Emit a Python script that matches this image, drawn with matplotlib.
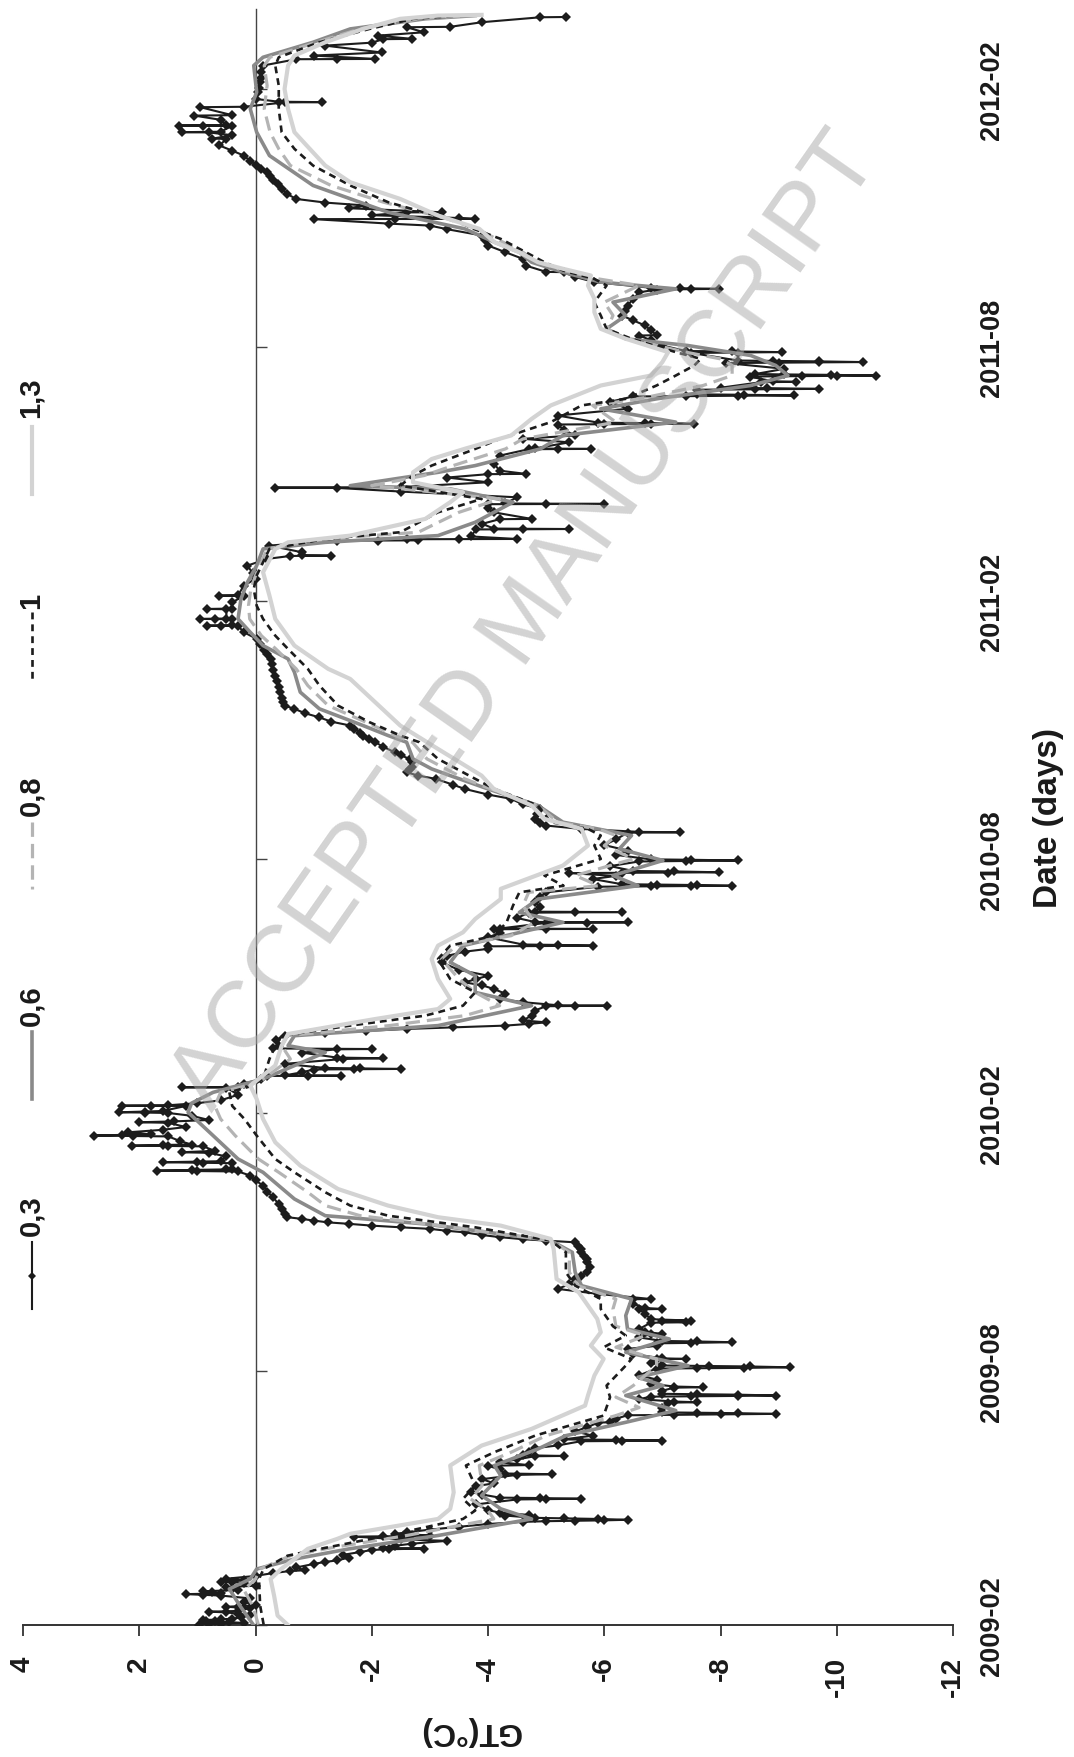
import numpy as np
import matplotlib
matplotlib.use("Agg")
import matplotlib.pyplot as plt
import matplotlib.dates as mdates
import datetime as dt

plt.rcParams['axes.unicode_minus'] = False

START = dt.datetime(2009, 2, 1)
AXIS_END_DAY = 1152
SERIES_NAMES = ['0,3', '0,6', '0,8', '1', '1,3']
GT_TICKS = [4, 2, 0, -2, -4, -6, -8, -10, -12]

# (day since 2009-02-01, GT in degC)
PTS_03 = [
    (0.3, 0.98), (0.6, 0.8), (1.0, 0.6), (1.5, 0.2), (2.0, 0.45), (2.5, 0.7), (3.0, 0.85),
    (3.5, 0.9), (4.0, 0.6), (4.5, 0.4), (5.5, 0.25), (7.0, 0.1), (8.0, 0.3), (9.0, 0.5),
    (9.5, 0.8), (10.0, 0.3), (12.0, 0.1), (12.5, 0.3), (13.0, 0.5), (14.0, 0.0), (16.5, 0.2),
    (19.0, 0.1), (21.0, 0.6), (21.5, 0.9), (22.0, 1.2), (22.5, 0.6), (23.2, 0.75), (24.0, 0.9),
    (25.0, 0.3), (26.0, 0.4), (27.0, 0.5), (28.0, 0.0), (30.0, 0.2), (30.5, 0.4), (31.0, 0.6),
    (32.0, 0.2), (33.0, 0.5), (35.0, 0.0), (37.0, -0.3), (38.5, -0.6), (39.0, -0.85),
    (41.0, -0.7), (43.5, -1.0), (45.0, -1.2), (46.0, -1.4), (48.0, -1.6), (50.0, -1.5),
    (52.0, -1.8), (53.5, -2.0), (54.0, -2.3), (54.5, -2.9), (55.0, -2.2), (56.5, -2.4),
    (58.0, -2.7), (60.0, -3.3), (61.0, -2.5), (63.0, -1.7), (63.2, -2.2), (63.4, -2.6),
    (63.8, -3.0), (64.5, -2.7), (65.0, -2.4), (66.0, -2.6), (68.0, -3.0), (70.0, -3.5),
    (72.0, -4.0), (73.5, -4.6), (74.0, -5.0), (74.3, -5.5), (74.6, -6.0), (75.0, -6.4),
    (75.6, -5.9), (76.0, -5.3), (76.4, -4.8), (78.0, -4.3), (78.5, -4.7), (80.0, -4.2),
    (82.0, -4.0), (86.0, -3.8), (89.5, -4.5), (89.7, -5.0), (90.0, -5.6), (90.5, -4.9),
    (90.8, -4.2), (93.0, -3.9), (95.0, -3.7), (99.0, -3.8), (101.0, -4.1), (104.0, -3.9),
    (107.0, -4.5), (107.5, -5.1), (108.0, -4.3), (111.0, -4.2), (113.5, -4.0), (114.0, -4.7),
    (116.0, -4.2), (118.0, -4.5), (120.3, -4.8), (120.5, -5.3), (121.0, -4.6), (123.0, -4.7),
    (126.0, -4.8), (128.0, -5.2), (131.0, -5.6), (131.2, -6.3), (131.5, -7.0), (132.0, -6.2),
    (132.3, -5.3), (135.0, -5.8), (138.0, -5.5), (141.0, -5.7), (144.3, -5.9), (144.5, -6.1),
    (147.0, -6.2), (149.5, -6.4), (149.8, -7.2), (150.1, -8.0), (150.5, -8.95), (151.0, -8.3),
    (151.3, -7.6), (151.6, -7.0), (155.0, -7.0), (158.5, -7.1), (158.8, -7.6), (159.3, -7.2),
    (161.0, -6.6), (162.8, -6.8), (163.0, -7.5), (163.3, -8.3), (163.6, -8.95), (164.2, -8.3),
    (164.5, -7.6), (164.8, -7.0), (167.0, -7.0), (169.2, -7.2), (169.5, -7.7), (170.0, -7.2),
    (172.0, -6.8), (175.0, -6.9), (178.0, -6.6), (182.8, -6.9), (183.0, -7.6), (183.3, -8.4),
    (183.7, -9.2), (184.3, -8.5), (184.6, -7.8), (185.0, -7.0), (187.0, -6.8), (189.4, -6.9),
    (189.7, -7.4), (190.1, -7.0), (193.0, -6.5), (196.8, -6.4), (199.0, -6.9), (200.8, -6.9),
    (201.1, -7.5), (201.6, -8.2), (202.1, -7.6), (202.5, -7.0), (205.0, -6.6), (207.3, -6.8),
    (207.5, -7.0), (209.0, -6.7), (211.0, -6.6), (215.5, -6.8), (215.8, -7.4), (216.5, -7.0),
    (217.0, -7.5), (218.0, -6.8), (222.0, -6.7), (225.0, -6.6), (225.3, -7.0), (226.0, -6.7),
    (229.0, -6.5), (232.2, -6.5), (232.4, -6.8), (236.0, -5.9), (239.6, -5.2), (243.0, -5.4),
    (246.7, -5.5), (249.0, -5.6), (251.4, -5.7), (255.0, -5.75), (258.5, -5.7), (261.0, -5.7),
    (263.3, -5.65), (266.0, -5.6), (268.0, -5.6), (270.5, -5.55), (272.8, -5.5), (274.0, -5.0),
    (275.0, -4.6), (276.5, -4.2), (278.0, -3.9), (279.9, -3.6), (281.0, -3.3), (282.4, -3.0),
    (283.5, -2.5), (284.7, -2.0), (286.0, -1.6), (287.0, -1.25), (288.3, -1.0), (289.5, -0.8),
    (290.7, -0.55), (293.0, -0.5), (296.6, -0.45), (300.0, -0.4), (305.0, -0.3), (309.0, -0.2),
    (313.2, -0.13), (317.0, 0.0), (320.4, 0.09), (323.3, 0.3), (323.6, 1.0), (323.9, 1.7),
    (324.4, 1.1), (324.8, 0.5), (325.1, 0.41), (329.2, 0.4), (329.5, 0.9), (329.9, 1.6),
    (330.3, 1.0), (330.6, 0.6), (334.0, 0.5), (336.6, 0.8), (337.0, 1.27), (338.0, 0.7),
    (341.2, 0.9), (341.5, 1.5), (341.7, 2.13), (342.2, 1.6), (342.5, 1.1), (345.0, 1.3),
    (348.3, 1.5), (348.6, 2.1), (348.9, 2.77), (349.4, 2.3), (349.8, 1.8), (351.2, 2.2),
    (353.0, 1.6), (355.0, 1.2), (358.0, 1.5), (358.4, 2.0), (359.0, 1.4), (360.0, 0.8),
    (363.0, 1.1), (365.0, 1.5), (365.3, 1.9), (365.5, 2.34), (366.0, 1.9), (366.4, 1.6),
    (370.0, 1.2), (370.1, 1.8), (370.2, 2.3), (370.5, 1.5), (372.0, 1.0), (374.0, 0.6),
    (378.0, 0.3), (383.1, 0.5), (383.3, 1.27), (383.6, 0.3), (386.0, 0.2), (389.2, -0.1),
    (391.4, -0.2), (391.5, -0.9), (391.6, -1.47), (391.8, -0.5), (394.0, -0.8), (396.0, -1.0),
    (396.2, -1.7), (396.4, -2.5), (396.8, -1.8), (397.1, -1.2), (400.0, -0.5), (403.5, -1.5),
    (404.0, -2.2), (404.5, -1.4), (408.0, -0.8), (410.4, -1.4), (410.6, -2.0), (411.0, -0.3),
    (413.0, -0.4), (417.0, -0.35), (420.1, -0.5), (422.0, -1.2), (423.5, -1.9), (424.9, -2.6),
    (426.0, -3.4), (427.3, -4.3), (428.5, -4.7), (429.6, -5.0), (431.0, -4.6), (434.4, -4.75),
    (438.0, -4.8), (441.1, -5.0), (441.3, -5.5), (441.5, -6.04), (441.8, -5.2), (444.0, -4.6),
    (446.3, -4.2), (450.0, -4.3), (453.4, -4.1), (456.0, -3.9), (458.1, -3.6), (460.5, -3.8),
    (462.9, -4.0), (467.0, -3.5), (472.4, -3.2), (477.0, -3.3), (480.0, -3.6), (482.0, -4.0),
    (483.8, -4.0), (484.0, -4.9), (484.3, -5.8), (484.8, -5.2), (485.1, -4.6), (490.2, -4.0),
    (493.0, -4.2), (496.0, -4.1), (496.1, -5.0), (496.2, -5.8), (496.5, -4.2), (500.5, -5.0),
    (500.7, -5.7), (500.9, -6.4), (501.2, -4.8), (504.0, -4.5), (507.8, -4.7), (508.0, -5.5),
    (508.2, -6.3), (508.5, -4.8), (512.0, -4.9), (515.2, -4.8), (519.0, -4.9), (522.3, -5.0),
    (526.3, -5.9), (526.6, -6.8), (526.8, -7.5), (527.0, -8.2), (527.5, -7.6), (527.8, -6.9),
    (528.1, -6.3), (531.8, -5.8), (534.0, -6.2), (536.0, -5.4), (536.2, -6.3), (536.4, -7.1),
    (536.6, -7.98), (537.2, -7.2), (537.5, -6.5), (541.0, -6.1), (544.3, -6.6), (544.6, -7.4),
    (545.0, -8.3), (545.5, -7.5), (545.8, -6.8), (549.0, -6.2), (552.1, -6.4), (556.0, -6.0),
    (560.0, -6.2), (564.8, -6.4), (565.1, -7.3), (565.4, -6.6), (567.5, -5.6), (569.9, -5.0),
    (572.0, -4.9), (574.7, -4.8), (578.0, -4.85), (581.8, -4.9), (585.0, -4.6), (588.9, -4.4),
    (592.0, -4.0), (596.0, -3.6), (599.0, -3.4), (603.2, -3.1), (605.5, -2.8), (607.9, -2.6),
    (610.0, -2.65), (612.0, -2.7), (615.0, -2.7), (617.4, -2.65), (620.0, -2.5), (622.0, -2.4),
    (626.0, -2.2), (629.3, -2.06), (631.7, -1.95), (634.0, -1.85), (636.0, -1.8), (639.0, -1.7),
    (641.2, -1.63), (644.0, -1.3), (647.0, -1.1), (650.0, -0.85), (653.1, -0.67), (655.4, -0.5),
    (658.0, -0.48), (661.0, -0.45), (664.9, -0.43), (669.0, -0.4), (673.0, -0.37),
    (676.8, -0.34), (681.0, -0.3), (685.0, -0.28), (688.7, -0.26), (692.0, -0.2),
    (695.0, -0.15), (699.0, -0.08), (703.0, -0.02), (707.7, 0.2), (712.2, 0.3), (712.3, 0.6),
    (712.4, 0.84), (712.7, 0.4), (717.0, 0.4), (717.1, 0.7), (717.2, 0.95), (717.5, 0.5),
    (724.1, 0.5), (724.3, 0.84), (724.6, 0.4), (729.1, 0.4), (733.6, 0.2), (733.8, 0.62),
    (734.1, 0.3), (741.0, 0.2), (745.7, 0.0), (750.0, 0.05), (755.2, 0.14), (760.0, -0.2),
    (762.1, -0.6), (762.3, -1.3), (762.6, -0.8), (764.7, -0.8), (769.5, -0.24), (773.0, -1.4),
    (773.1, -2.1), (773.2, -2.8), (774.0, -2.6), (774.1, -3.5), (774.2, -4.5), (776.0, -3.7),
    (781.0, -3.8), (781.1, -4.6), (781.3, -5.4), (781.6, -4.1), (785.0, -3.9), (788.3, -4.2),
    (788.5, -4.75), (793.2, -4.1), (796.0, -4.0), (799.0, -4.0), (799.1, -5.0), (799.2, -6.0),
    (799.5, -4.3), (803.9, -4.5), (808.0, -2.5), (810.6, -1.4), (810.8, -0.34), (811.2, -2.5),
    (814.6, -4.0), (818.0, -3.3), (820.4, -4.0), (820.6, -4.65), (822.9, -4.2), (828.0, -4.1),
    (833.6, -4.2), (838.2, -4.7), (838.3, -5.2), (838.4, -5.77), (838.7, -4.8), (843.1, -5.4),
    (845.6, -4.6), (848.0, -5.5), (852.0, -5.3), (855.8, -5.2), (856.0, -6.0), (856.2, -6.8),
    (856.3, -7.55), (856.8, -6.7), (857.1, -5.9), (862.2, -5.2), (867.0, -6.4), (872.0, -6.1),
    (875.8, -6.5), (876.0, -7.4), (876.3, -8.3), (876.5, -9.27), (877.0, -8.4), (877.3, -7.6),
    (880.6, -7.6), (880.9, -8.6), (881.2, -9.7), (881.7, -8.8), (882.0, -8.0), (886.0, -8.7),
    (886.2, -9.3), (886.6, -8.9), (890.0, -8.5), (890.3, -9.4), (890.5, -10.0), (890.7, -10.67),
    (891.2, -9.9), (891.5, -9.1), (891.8, -8.6), (895.5, -9.1), (899.6, -8.1), (899.9, -9.0),
    (900.1, -9.7), (900.3, -10.45), (900.8, -9.7), (901.1, -8.9), (901.4, -8.3), (906.8, -7.5),
    (907.1, -8.3), (907.4, -9.05), (907.9, -8.2), (908.2, -7.4), (912.1, -7.0), (916.0, -6.8),
    (919.2, -6.6), (919.5, -6.9), (923.0, -6.8), (926.4, -6.7), (930.0, -6.5), (933.5, -6.3),
    (937.0, -6.35), (940.6, -6.4), (945.4, -6.5), (950.0, -6.6), (952.0, -6.9), (952.3, -7.5),
    (952.5, -7.98), (953.0, -7.3), (953.3, -6.8), (957.3, -5.83), (961.0, -5.5), (964.4, -5.3),
    (964.6, -5.0), (969.1, -4.65), (973.9, -4.6), (978.6, -4.3), (983.4, -4.0), (987.0, -3.95),
    (990.5, -3.9), (995.0, -3.3), (997.6, -3.0), (999.0, -2.3), (1002.2, -1.0), (1002.3, -2.4),
    (1002.4, -3.78), (1003.0, -3.5), (1005.0, -2.0), (1007.0, -2.6), (1007.1, -3.2),
    (1010.0, -1.6), (1011.9, -1.9), (1014.0, -1.2), (1016.6, -0.7), (1020.0, -0.55),
    (1023.8, -0.45), (1027.0, -0.38), (1030.0, -0.3), (1033.0, -0.25), (1035.6, -0.2),
    (1038.0, -0.1), (1041.0, 0.0), (1044.0, 0.1), (1047.5, 0.2), (1051.0, 0.4), (1054.7, 0.62),
    (1059.4, 0.5), (1059.6, 0.74), (1062.0, 0.4), (1064.0, 0.8), (1064.2, 1.27), (1064.5, 0.6),
    (1068.7, 0.4), (1068.8, 0.9), (1068.9, 1.32), (1069.2, 0.5), (1073.0, 0.6), (1076.0, 1.05),
    (1076.3, 0.4), (1082.0, 0.95), (1082.3, 0.2), (1085.4, -0.5), (1085.6, -1.15),
    (1085.9, -0.4), (1087.9, 0.0), (1092.7, -0.05), (1096.0, -0.06), (1099.8, -0.08),
    (1103.0, -0.09), (1107.0, -0.1), (1111.7, -0.13), (1116.2, -0.7), (1116.3, -1.4),
    (1116.4, -2.06), (1118.8, -1.0), (1121.0, -2.17), (1125.9, -1.2), (1128.0, -2.0),
    (1130.5, -2.2), (1130.7, -2.7), (1133.0, -2.1), (1135.4, -2.9), (1139.0, -2.6),
    (1139.3, -3.35), (1142.6, -3.9), (1146.1, -4.9), (1146.3, -5.34),
]

PTS_06 = [
    (0.3, 0.04), (13.8, 0.27), (25.7, 0.45), (32.8, 0.09), (39.9, -0.02), (47.0, -0.67),
    (54.2, -1.6), (63.8, -3.14), (75.6, -4.75), (82.8, -4.22), (92.3, -3.89), (106.5, -4.22),
    (113.7, -4.11), (125.5, -4.86), (135.0, -5.34), (144.5, -6.37), (152.9, -7.23),
    (163.6, -6.37), (170.7, -7.01), (176.6, -6.58), (184.9, -7.44), (194.4, -6.37),
    (203.9, -7.12), (211.0, -6.4), (220.6, -6.37), (232.4, -6.47), (241.9, -5.61),
    (251.4, -5.5), (265.7, -5.45), (274.0, -5.08), (285.9, -2.92), (291.8, -1.2),
    (303.7, -0.67), (322.7, -0.13), (332.2, 0.3), (348.9, 0.73), (365.5, 1.16), (372.0, 1.1),
    (379.7, 0.73), (384.5, 0.3), (389.2, -0.13), (408.2, -1.2), (413.0, -0.56), (420.1, -0.67),
    (427.3, -3.14), (441.5, -4.75), (451.0, -3.78), (462.9, -3.78), (472.4, -3.35),
    (484.3, -3.57), (500.9, -5.29), (508.0, -4.54), (517.5, -4.86), (527.0, -6.58),
    (534.3, -6.15), (545.0, -7.01), (553.3, -6.26), (562.8, -6.47), (572.3, -5.29),
    (584.2, -4.86), (596.0, -4.0), (605.5, -3.35), (610.3, -3.03), (617.4, -2.71),
    (629.3, -2.6), (634.1, -2.28), (641.2, -1.85), (653.1, -1.1), (665.0, -0.77),
    (679.2, -0.67), (688.7, -0.56), (698.2, -0.13), (707.7, 0.09), (717.2, 0.3), (731.5, 0.25),
    (743.3, 0.14), (755.2, -0.02), (767.1, -0.13), (771.8, -1.2), (776.6, -3.14),
    (786.1, -3.78), (800.4, -4.43), (809.9, -3.35), (812.2, -1.63), (821.7, -3.14),
    (826.5, -3.78), (838.4, -4.9), (848.0, -5.29), (857.5, -7.23), (867.0, -5.94),
    (874.1, -6.9), (883.6, -8.52), (890.7, -9.16), (897.9, -8.95), (905.0, -8.52),
    (912.1, -7.44), (916.9, -6.37), (924.0, -6.04), (933.5, -6.37), (943.0, -6.15),
    (952.5, -7.23), (957.3, -5.94), (964.4, -5.29), (971.5, -4.75), (978.6, -4.54),
    (985.8, -4.11), (995.3, -3.6), (1007.1, -2.28), (1026.2, -0.99), (1047.5, -0.24),
    (1064.2, -0.02), (1080.8, 0.09), (1092.7, -0.02), (1111.7, 0.03), (1117.6, -0.13),
    (1128.3, -0.99), (1137.8, -1.63), (1145.0, -2.92), (1147.3, -3.78),
]

PTS_08 = [
    (0.3, -0.05), (13.8, 0.05), (25.0, 0.2), (32.8, 0.0), (39.9, -0.08), (49.4, -0.6),
    (55.0, -1.3), (63.8, -2.6), (75.6, -4.1), (81.6, -4.0), (89.9, -3.7), (99.4, -3.9),
    (113.7, -3.85), (123.2, -4.4), (135.0, -5.0), (149.3, -6.2), (155.0, -6.6), (162.4, -6.2),
    (170.7, -6.5), (184.9, -6.9), (189.7, -6.9), (198.0, -6.2), (206.3, -6.7), (213.0, -6.2),
    (225.3, -6.15), (232.4, -6.2), (241.9, -5.55), (251.4, -5.4), (265.7, -5.4), (274.0, -5.08),
    (283.5, -3.4), (291.8, -1.8), (299.0, -1.2), (308.5, -0.9), (322.7, -0.4), (332.2, -0.05),
    (348.9, 0.35), (360.7, 0.6), (370.0, 0.7), (379.7, 0.6), (384.0, 0.2), (389.2, -0.13),
    (403.5, -0.6), (413.0, -0.45), (420.1, -0.55), (427.3, -2.3), (434.4, -3.6), (441.5, -4.2),
    (451.0, -3.78), (460.5, -3.5), (474.8, -3.2), (484.3, -3.45), (491.4, -4.4), (500.9, -4.8),
    (512.8, -4.6), (522.3, -4.7), (527.0, -5.9), (534.3, -5.5), (546.1, -6.5), (555.6, -6.0),
    (562.8, -6.2), (567.5, -5.9), (572.3, -5.2), (584.2, -4.86), (596.0, -4.05), (603.2, -3.6),
    (617.4, -2.95), (629.3, -2.7), (634.1, -2.4), (643.6, -1.9), (655.4, -1.25), (669.7, -0.9),
    (681.6, -0.7), (695.8, -0.35), (705.3, -0.1), (717.2, 0.1), (726.7, 0.12), (738.6, 0.08),
    (748.1, 0.0), (767.1, -0.2), (774.2, -1.2), (779.0, -2.8), (793.2, -3.5), (802.7, -4.2),
    (812.2, -2.0), (819.4, -2.9), (826.5, -3.4), (838.4, -4.3), (845.5, -4.6), (857.5, -6.2),
    (869.4, -5.8), (874.1, -6.6), (883.6, -7.7), (890.7, -8.2), (897.9, -8.2), (902.6, -8.0),
    (907.4, -7.4), (916.9, -6.4), (924.0, -6.05), (933.5, -6.15), (943.0, -6.0), (954.9, -6.6),
    (959.6, -5.9), (965.6, -5.3), (971.5, -4.86), (978.6, -4.6), (988.1, -4.15), (995.3, -3.8),
    (1002.4, -3.3), (1014.3, -2.2), (1026.2, -1.3), (1040.4, -0.6), (1052.3, -0.4),
    (1064.2, -0.25), (1080.8, -0.15), (1097.4, -0.2), (1111.7, -0.15), (1117.6, -0.25),
    (1128.3, -1.05), (1137.8, -1.8), (1145.0, -2.8), (1147.3, -3.6),
]

PTS_10 = [
    (0.3, -0.14), (13.8, -0.08), (32.8, -0.06), (39.9, -0.14), (49.4, -0.55), (55.0, -1.2),
    (63.8, -2.28), (75.6, -3.57), (81.6, -3.78), (89.9, -3.57), (99.4, -3.78), (113.7, -3.62),
    (123.2, -4.11), (135.0, -4.81), (149.3, -5.99), (162.4, -6.1), (170.7, -6.04),
    (184.9, -6.37), (189.7, -6.47), (198.0, -5.99), (206.3, -6.37), (213.0, -6.15),
    (225.3, -5.94), (232.4, -5.94), (241.9, -5.5), (251.4, -5.34), (265.7, -5.34),
    (274.0, -5.08), (283.5, -3.78), (291.8, -2.28), (299.0, -1.63), (308.5, -1.2),
    (322.7, -0.67), (332.2, -0.34), (348.9, -0.02), (360.7, 0.19), (370.0, 0.4), (379.7, 0.45),
    (384.0, 0.09), (389.2, -0.13), (403.5, -0.24), (413.0, -0.34), (420.1, -0.45),
    (427.3, -1.63), (434.4, -2.92), (441.5, -3.57), (451.0, -3.78), (460.5, -3.35),
    (474.8, -3.14), (484.3, -3.35), (491.4, -4.11), (500.9, -4.32), (512.8, -4.43),
    (522.3, -4.54), (527.0, -5.3), (534.3, -4.97), (546.1, -5.94), (555.6, -5.83),
    (562.8, -5.94), (567.5, -5.72), (572.3, -5.08), (584.2, -4.86), (596.0, -4.11),
    (603.2, -3.78), (617.4, -3.14), (629.3, -2.82), (634.1, -2.49), (643.6, -1.96),
    (655.4, -1.42), (669.7, -1.1), (681.6, -0.9), (695.8, -0.56), (705.3, -0.34),
    (717.2, -0.13), (726.7, -0.02), (738.6, 0.03), (748.1, -0.02), (767.1, -0.24),
    (774.2, -1.2), (779.0, -2.49), (793.2, -3.14), (802.7, -3.89), (812.2, -2.49),
    (819.4, -2.71), (826.5, -3.03), (838.4, -3.78), (845.5, -4.2), (857.5, -5.08),
    (869.4, -5.61), (874.1, -6.37), (883.6, -6.9), (890.7, -7.23), (897.9, -7.55),
    (902.6, -7.66), (907.4, -7.23), (916.9, -6.47), (924.0, -6.04), (933.5, -5.94),
    (943.0, -5.83), (954.9, -6.04), (959.6, -5.83), (965.6, -5.29), (971.5, -4.97),
    (978.6, -4.65), (988.1, -4.22), (995.3, -3.75), (1002.4, -3.4), (1007.0, -2.9),
    (1014.3, -2.28), (1026.2, -1.63), (1040.4, -0.99), (1052.3, -0.67), (1064.2, -0.45),
    (1080.8, -0.4), (1097.4, -0.4), (1111.7, -0.34), (1117.6, -0.4), (1128.3, -1.1),
    (1137.8, -1.96), (1145.0, -2.71), (1147.3, -3.5),
]

PTS_13 = [
    (0.3, -0.55), (6.7, -0.38), (20.9, -0.32), (32.8, -0.26), (39.9, -0.44), (47.0, -0.67),
    (54.3, -0.9), (61.3, -1.4), (65.0, -1.63), (75.6, -3.14), (82.8, -3.35), (94.6, -3.41),
    (113.7, -3.35), (127.9, -3.89), (139.8, -4.75), (156.4, -5.67), (163.6, -5.72),
    (177.8, -5.83), (189.7, -5.99), (199.2, -5.77), (208.7, -5.94), (218.2, -5.88),
    (227.7, -5.72), (237.2, -5.56), (246.7, -5.18), (268.0, -5.13), (275.2, -5.08),
    (284.7, -4.22), (290.7, -3.14), (299.0, -2.28), (310.8, -1.42), (327.5, -0.77),
    (344.1, -0.34), (360.7, -0.13), (375.0, -0.02), (384.5, 0.09), (398.8, -0.34),
    (413.0, -0.45), (421.3, -0.56), (432.0, -2.06), (439.1, -3.14), (446.3, -3.35),
    (460.5, -3.14), (474.8, -3.03), (484.3, -3.14), (493.8, -3.57), (503.3, -3.78),
    (517.5, -4.22), (524.8, -4.22), (541.4, -5.29), (555.6, -5.72), (567.5, -5.61),
    (574.7, -4.97), (584.2, -4.75), (596.0, -4.1), (605.5, -3.89), (624.5, -3.14),
    (641.2, -2.49), (657.8, -2.06), (674.4, -1.63), (681.6, -1.25), (698.2, -0.67),
    (717.2, -0.34), (733.8, -0.24), (750.5, -0.13), (767.1, -0.34), (771.8, -0.56),
    (776.6, -1.63), (788.5, -2.92), (800.4, -3.35), (807.5, -3.57), (814.6, -2.71),
    (821.7, -2.71), (831.2, -3.03), (838.5, -3.6), (848.0, -4.4), (859.8, -4.75),
    (869.4, -5.08), (883.6, -5.94), (890.7, -6.8), (900.3, -7.0), (907.4, -7.1),
    (916.9, -6.37), (924.0, -5.94), (935.9, -5.83), (945.4, -5.83), (954.9, -5.72),
    (962.0, -5.77), (966.8, -5.29), (971.5, -4.86), (978.6, -4.54), (985.8, -4.11),
    (995.3, -3.85), (1004.8, -3.14), (1016.6, -2.49), (1028.5, -1.63), (1040.4, -1.2),
    (1054.7, -0.88), (1064.2, -0.67), (1080.8, -0.56), (1095.0, -0.5), (1111.7, -0.56),
    (1118.8, -0.67), (1128.3, -1.2), (1137.8, -1.85), (1145.0, -2.49), (1147.3, -3.14),
    (1147.8, -3.89),
]

SERIES_POINTS = [PTS_03, PTS_06, PTS_08, PTS_10, PTS_13]

STYLES = [
    dict(color='#1c1c1c', lw=1.5, ls='-', marker='D', ms=5.2, mew=0),
    dict(color='#8a8a8a', lw=2.6, ls='-'),
    dict(color='#b4b4b4', lw=2.3, ls=(0, (4.5, 2.2))),
    dict(color='#1c1c1c', lw=1.9, ls=(0, (2.6, 1.9))),
    dict(color='#d3d3d3', lw=3.0, ls='-'),
]

SANS = ['Liberation Sans', 'DejaVu Sans']

W, H = 1074, 1758
fig = plt.figure(figsize=(W / 100, H / 100), dpi=100)
ax_l, ax_r, ax_t, ax_b = 23, 953, 10, 1626
ax = fig.add_axes([ax_l / W, 1 - ax_b / H, (ax_r - ax_l) / W, (ax_b - ax_t) / H])

base = mdates.date2num(START)
for pts, st in zip(SERIES_POINTS, STYLES):
    d = np.array([p[0] for p in pts])
    v = np.array([p[1] for p in pts])
    ax.plot(v, base + d, color=st['color'], lw=st['lw'], ls=st['ls'],
            marker=st.get('marker', None), ms=st.get('ms', 0), mew=st.get('mew', 0),
            solid_joinstyle='round', dash_capstyle='butt', zorder=3)

ax.set_xlim(4, -12)
ax.set_ylim(base, base + AXIS_END_DAY)

# GT axis (bottom)
ax.set_xticks(GT_TICKS)
ax.set_xticklabels([str(t) for t in GT_TICKS])
ax.tick_params(axis='x', direction='out', length=8, width=1.3, color='#333333',
               labelrotation=90, pad=14)
for lab in ax.get_xticklabels():
    lab.set_fontfamily(SANS)
    lab.set_fontweight('bold')
    lab.set_fontsize(20)
    lab.set_color('#1a1a1a')

# date axis: spine at GT=0, labels on the right
ax.spines['left'].set_position(('data', 0))
ax.spines['left'].set_linewidth(1.0)
ax.spines['left'].set_color('#444444')
ax.spines['bottom'].set_linewidth(1.4)
ax.spines['bottom'].set_color('#333333')
ax.spines['top'].set_visible(False)
ax.spines['right'].set_visible(False)
ax.yaxis.set_major_locator(mdates.MonthLocator(bymonth=(2, 8)))
ax.yaxis.set_major_formatter(mdates.DateFormatter('%Y-%m'))
ax.tick_params(axis='y', left=True, right=False, labelleft=False, labelright=True,
               direction='in', length=8, width=1.0, color='#444444', pad=19,
               labelrotation=90)
for lab in ax.get_yticklabels():
    lab.set_fontfamily(SANS)
    lab.set_fontweight('bold')
    lab.set_fontsize(19.5)
    lab.set_color('#1a1a1a')
    lab.set_va('center')

fig.text(470 / W, 1 - 1731 / H, 'GT(°C)', rotation=180, ha='center', va='center',
         fontsize=23, fontweight='bold', family=SANS, color='#1a1a1a')
fig.text(1048 / W, 1 - 818 / H, 'Date (days)', rotation=90, ha='center', va='center',
         fontsize=24, fontweight='bold', family=SANS, color='#1a1a1a')

# rotated legend on the left
lax = fig.add_axes([0, 0, 1, 1], facecolor='none')
lax.set_xlim(0, W)
lax.set_ylim(H, 0)
lax.axis('off')
LEG_LINE = [(1243, 1310), (1033, 1100), (823, 890), (613, 680), (428, 495)]
LEG_TEXT = [1216, 1006, 796, 601, 398]
for name, st, (y0, y1), ty in zip(SERIES_NAMES, STYLES, LEG_LINE, LEG_TEXT):
    lax.plot([32, 32], [y0, y1], color=st['color'], lw=st['lw'], ls=st['ls'],
             dash_capstyle='butt')
    if st.get('marker'):
        lax.plot([32], [(y0 + y1) / 2], marker=st['marker'], ms=st['ms'] - 0.8, mew=0,
                 color=st['color'])
    lax.text(31, ty, name, rotation=90, ha='center', va='center', fontsize=21,
             fontweight='bold', family=SANS, color='#1a1a1a')

# watermark
fig.text(526 / W, 1 - 622 / H, 'ACCEPTED MANUSCRIPT', rotation=55, ha='center',
         va='center', fontsize=68, color='#a8a8a8', alpha=0.5, family=SANS, zorder=10)

fig.savefig('out.png', dpi=100)
